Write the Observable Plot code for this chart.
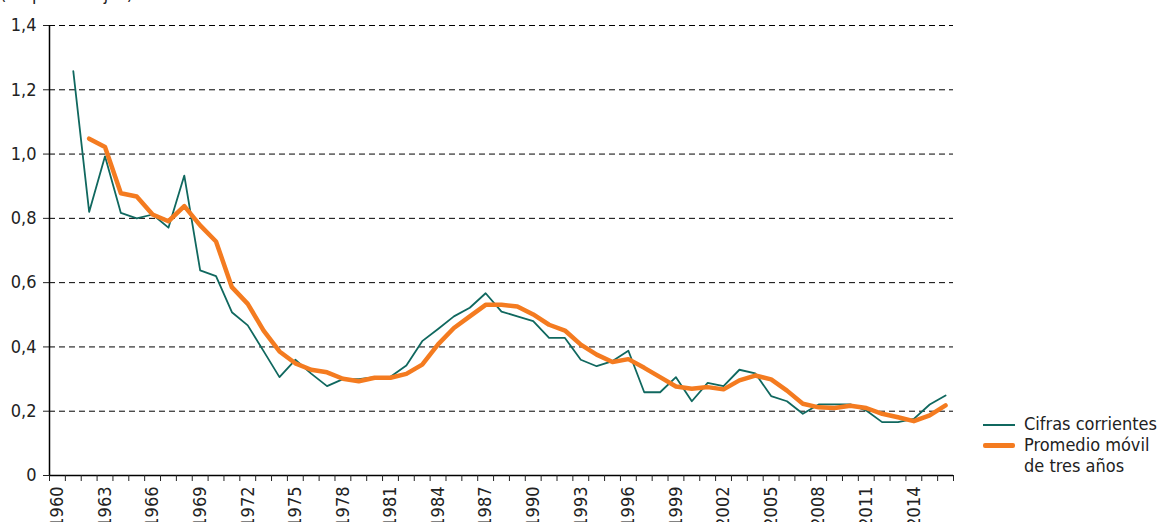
<!DOCTYPE html>
<html>
<head>
<meta charset="utf-8">
<script src="https://cdn.jsdelivr.net/npm/d3@7"></script>
<script src="https://cdn.jsdelivr.net/npm/@observablehq/plot@0.6"></script>
<style>
  body { margin: 0; background: #fff; overflow: hidden; }
  #wrap { position: relative; width: 1157px; height: 522px; overflow: hidden;
          font-family: "Liberation Sans Narrow", "DejaVu Sans Condensed", "Roboto Condensed", sans-serif; font-stretch: condensed; color: #222; }
  #unit { position: absolute; left: 0; top: -15px; font-size: 18px; line-height: 18px; white-space: nowrap; }
  #legend { position: absolute; left: 983px; top: 413px; font-size: 18px; line-height: 21px; }
  .row { display: flex; align-items: flex-start; }
  .sw { width: 32px; margin-top: 10px; margin-right: 9px; flex: none; }
  svg { display: block; }
</style>
</head>
<body>
<div id="wrap">
  <div id="chart"></div>
  <div id="unit">(En porcentajes)</div>
  <div id="legend"></div>
</div>
<script>
// ---- data ----
const yearsCifras = [1961,1962,1963,1964,1965,1966,1967,1968,1969,1970,
  1971,1972,1973,1974,1975,1976,1977,1978,1979,1980,
  1981,1982,1983,1984,1985,1986,1987,1988,1989,1990,
  1991,1992,1993,1994,1995,1996,1997,1998,1999,2000,
  2001,2002,2003,2004,2005,2006,2007,2008,2009,2010,
  2011,2012,2013,2014,2015,2016];
const cifras = [1.258,0.82,0.993,0.817,0.80,0.812,0.771,0.933,0.638,0.62,
  0.508,0.467,0.387,0.306,0.36,0.317,0.278,0.30,0.30,0.306,
  0.307,0.342,0.418,0.456,0.495,0.522,0.567,0.51,0.495,0.48,
  0.428,0.428,0.36,0.34,0.356,0.388,0.259,0.259,0.306,0.231,
  0.288,0.278,0.329,0.318,0.247,0.231,0.192,0.221,0.221,0.221,
  0.202,0.166,0.166,0.176,0.221,0.249];
const yearsPromedio = [1962,1963,1964,1965,1966,1967,1968,1969,1970,
  1971,1972,1973,1974,1975,1976,1977,1978,1979,1980,
  1981,1982,1983,1984,1985,1986,1987,1988,1989,1990,
  1991,1992,1993,1994,1995,1996,1997,1998,1999,2000,
  2001,2002,2003,2004,2005,2006,2007,2008,2009,2010,
  2011,2012,2013,2014,2015,2016];
const promedio = [1.048,1.022,0.878,0.868,0.812,0.791,0.838,0.778,0.728,
  0.586,0.534,0.451,0.386,0.349,0.329,0.321,0.301,0.293,0.304,
  0.304,0.316,0.345,0.408,0.459,0.495,0.531,0.531,0.526,0.501,
  0.469,0.451,0.407,0.376,0.353,0.362,0.335,0.306,0.277,0.27,
  0.275,0.268,0.296,0.311,0.299,0.264,0.223,0.212,0.21,0.217,
  0.21,0.192,0.181,0.169,0.187,0.218];
const xLabelYears = [1960,1963,1966,1969,1972,1975,1978,1981,1984,1987,1990,1993,1996,1999,2002,2005,2008,2011,2014];
const yTicks = [0,0.2,0.4,0.6,0.8,1.0,1.2,1.4];
const gridValues = [0.2,0.4,0.6,0.8,1.0,1.2,1.4];
const firstYear = 1960, lastYear = 2016;
const seriesNames = ["Cifras corrientes", "Promedio móvil\nde tres años"];
const colors = ["#10685f", "#f47b20"];

// ---- build ----
const dataC = yearsCifras.map((y, i) => ({year: y, value: cifras[i]}));
const dataP = yearsPromedio.map((y, i) => ({year: y, value: promedio[i]}));
const xDomain = [firstYear - 0.5, lastYear + 0.5];
const yDomain = [0, 1.4];
const bandEdges = d3.range(firstYear - 0.5, lastYear + 1, 1);
const font = '"Liberation Sans Narrow", "DejaVu Sans Condensed", "Roboto Condensed", sans-serif';

const plot = Plot.plot({
  width: 1157,
  height: 522,
  marginLeft: 49,
  marginRight: 204,
  marginTop: 25,
  marginBottom: 47,
  x: {type: "linear", domain: xDomain},
  y: {domain: yDomain},
  style: {fontFamily: font, fontSize: "18px", color: "#222", background: "#fff"},
  marks: [
    Plot.ruleY(gridValues, {stroke: "#000", strokeWidth: 1, strokeDasharray: "6,4"}),
    Plot.axisY(yTicks, {tickSize: 6, tickPadding: 7, label: null, fontSize: 18,
      tickFormat: d => d === 0 ? "0" : d.toFixed(1).replace(".", ",")}),
    Plot.ruleX([xDomain[0]], {y1: yDomain[0], y2: yDomain[1], stroke: "#000", strokeWidth: 1.5}),
    Plot.ruleY([0], {stroke: "#000", strokeWidth: 1.5}),
    Plot.axisX(bandEdges, {tickSize: 6, tickFormat: () => "", label: null}),
    Plot.axisX(xLabelYears, {tickSize: 0, tickPadding: 11, tickRotate: -90, label: null, fontSize: 18,
      tickFormat: d => String(d)}),
    Plot.line(dataC, {x: "year", y: "value", stroke: colors[0], strokeWidth: 1.8}),
    Plot.line(dataP, {x: "year", y: "value", stroke: colors[1], strokeWidth: 4.5, strokeLinejoin: "round"})
  ]
});
document.getElementById("chart").appendChild(plot);

// legend
const legend = document.getElementById("legend");
seriesNames.forEach((name, i) => {
  const row = document.createElement("div");
  row.className = "row";
  const sw = document.createElement("div");
  sw.className = "sw";
  sw.style.height = (i === 0 ? 2 : 5) + "px";
  sw.style.marginTop = (i === 0 ? 11 : 9) + "px";
  sw.style.background = colors[i];
  sw.style.borderRadius = i === 0 ? "0" : "2px";
  const t = document.createElement("div");
  t.innerHTML = name.replace("\n", "<br>");
  row.appendChild(sw); row.appendChild(t);
  legend.appendChild(row);
});
</script>
</body>
</html>
